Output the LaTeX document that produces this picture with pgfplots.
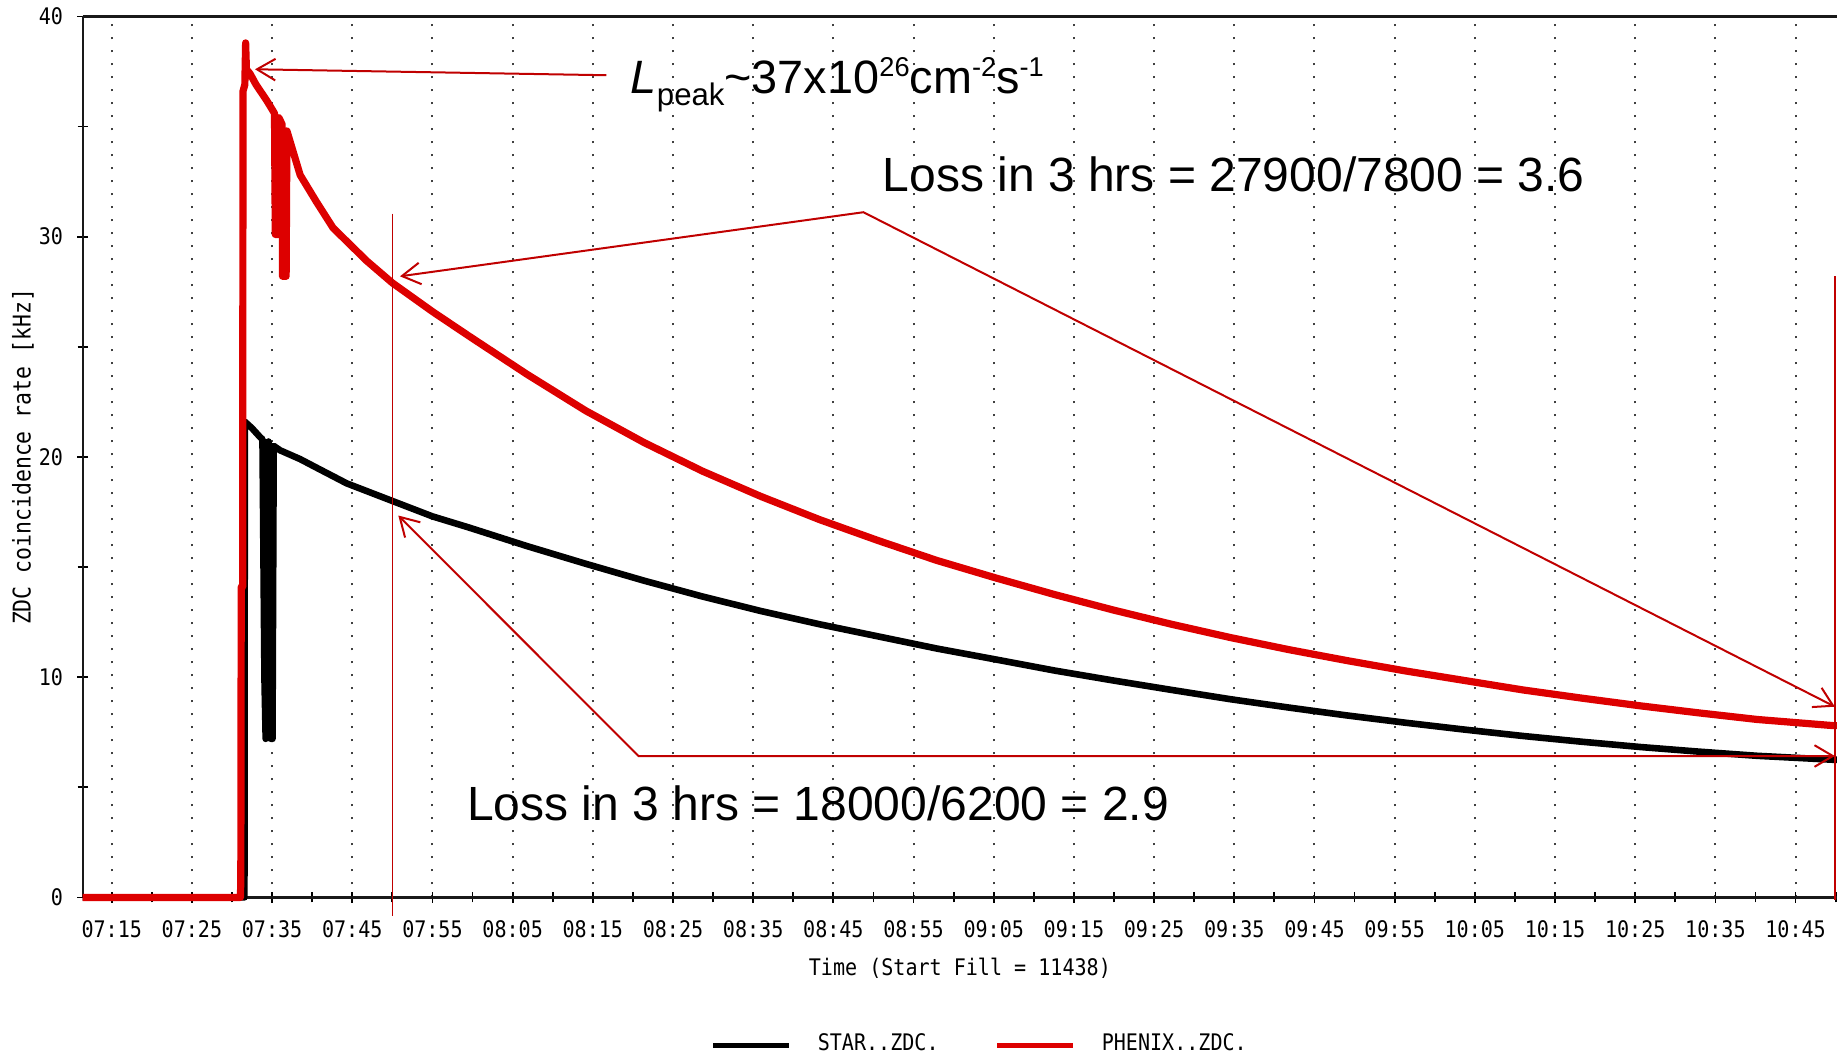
\documentclass[border=0pt]{standalone}
\usepackage{fontspec}
\setmainfont{Liberation Sans}
\newfontfamily\pixfont[FakeStretch=0.88]{DejaVu Sans Mono}
\usepackage{pgfplots}
\pgfplotsset{compat=1.18}
\usepackage{pgfplotstable}
\usetikzlibrary{arrows.meta}

\definecolor{datared}{RGB}{221,0,0}
\definecolor{annred}{RGB}{192,0,0}
\newcommand{\pix}{\pixfont\fontsize{5.7}{6.5}\selectfont}

% time in minutes after 07:00, rate in kHz
\pgfplotstableread{
t      rate
11.38  0
31.55  0
31.6   21.6
32.5   21.3
33.5   20.9
33.8   20.8
34.05  9.9
34.2   7.2
34.55  20.7
34.85  7.2
35.05  7.2
35.2   20.5
36.0   20.3
38.5   19.9
40.6   19.5
44.3   18.8
50.0   18.0
55.0   17.3
59.5   16.8
66.8   15.95
74.1   15.15
81.4   14.38
88.7   13.66
96.0   13.0
103.3  12.4
110.6  11.85
117.9  11.3
125.3  10.8
132.6  10.3
139.9  9.85
147.2  9.42
154.5  9.0
161.8  8.62
169.1  8.26
176.4  7.93
183.7  7.62
191.0  7.33
198.3  7.07
205.6  6.83
212.9  6.62
220.2  6.43
229.7  6.25
230.17 6.25
}\star

\pgfplotstableread{
t      rate
11.38  0
31.05  0
31.1   0.8
31.15  14.1
31.33  14.1
31.37  36.6
31.6   36.9
31.7   38.8
31.8   37.6
32.25  37.4
33.0   36.9
34.3   36.2
35.3   35.6
35.4   30.1
35.75  30.1
35.85  35.4
36.25  35.1
36.3   28.2
36.75  28.2
36.85  34.8
38.5   32.8
40.5   31.6
42.6   30.4
46.8   28.9
50.0   27.9
55.0   26.6
59.5   25.5
66.8   23.75
74.1   22.1
81.4   20.65
88.7   19.35
96.0   18.2
103.3  17.15
110.6  16.2
117.9  15.3
125.3  14.5
132.6  13.75
139.9  13.05
147.2  12.4
154.5  11.8
161.8  11.25
169.1  10.75
176.4  10.28
183.7  9.85
191.0  9.42
198.3  9.05
205.6  8.7
212.9  8.38
220.2  8.08
229.7  7.8
230.17 7.8
}\phenix

\begin{document}
\begin{tikzpicture}
\begin{axis}[
  scale only axis,
  width=438.575pt, height=220.25pt,
  xmin=11.38, xmax=230.17,
  ymin=0, ymax=40,
  clip=false,
  axis x line*=box, axis y line*=left,
  axis line style={line width=0.55pt, black!90},
  xtick pos=left, ytick pos=left,
  tick align=center,
  major tick length=2.75pt, minor tick length=2.5pt,
  every tick/.style={black, line width=0.45pt},
  xtick={15,25,...,225},
  xticklabels={07:15,07:25,07:35,07:45,07:55,08:05,08:15,08:25,08:35,08:45,08:55,09:05,09:15,09:25,09:35,09:45,09:55,10:05,10:15,10:25,10:35,10:45},
  minor xtick={20,30,...,230},
  ytick={0,10,20,30,40},
  minor ytick={5,15,25,35},
  xmajorgrids,
  major x grid style={black!75, line width=0.5pt, dash pattern=on 0.5pt off 2.75pt},
  /pgf/number format/assume math mode=true,
  ticklabel style={font=\pix},
  xticklabel style={yshift=-0.9pt},
  xlabel={Time (Start Fill = 11438)},
  xlabel style={font=\pix, at={(axis description cs:0.5,-0.0801)}, anchor=center},
  ylabel={ZDC coincidence rate [kHz]},
  ylabel style={font=\pixfont\fontsize{6.1}{7}\selectfont, at={(axis description cs:-0.034,0.5)}, anchor=center},
  legend style={draw=none, fill=none, font=\pix, legend columns=2,
    at={(axis description cs:0.513,-0.168)}, anchor=center,
    /tikz/every odd column/.append style={column sep=4.5pt},
    /tikz/every even column/.append style={column sep=12pt}},
  legend image code/.code={\draw[#1, line width=1.3pt] (0pt,0pt) -- (19pt,0pt);},
]
\addplot[black, line width=1.65pt, line join=round] table[x=t, y=rate] {\star};
\addlegendentry{STAR..ZDC.}
\addplot[datared, line width=1.8pt, line join=round] table[x=t, y=rate] {\phenix};
\addlegendentry{PHENIX..ZDC.}

% annotations
\draw[annred, line width=0.5pt, -{Straight Barb[length=4.6pt, width=5.4pt]}]
  (axis cs:76.7,37.33) -- (axis cs:32.87,37.6);
\draw[annred, line width=0.5pt, {Straight Barb[length=4.6pt, width=5.4pt]}-{Straight Barb[length=4.6pt, width=5.4pt]}]
  (axis cs:50.95,28.2) -- (axis cs:108.75,31.11) -- (axis cs:229.9,8.66);
\draw[annred, line width=0.5pt, {Straight Barb[length=4.6pt, width=5.4pt]}-{Straight Barb[length=4.6pt, width=5.4pt]}]
  (axis cs:50.74,17.34) -- (axis cs:80.69,6.42) -- (axis cs:229.9,6.42);
\draw[annred, line width=0.4pt] (axis cs:50,31.05) -- (axis cs:50,-0.85);
\draw[annred, line width=0.4pt] (axis cs:229.9,28.2) -- (axis cs:229.9,-0.1);

\node[anchor=base west, inner sep=0pt, font=\fontsize{11.7}{14}\selectfont] at (axis cs:79.65,36.5)
  {\textit{L}\raisebox{-2.9pt}{\fontsize{7.8}{9}\selectfont peak}\textasciitilde 37x10\raisebox{4.15pt}{\fontsize{6.8}{8}\selectfont 26}cm\raisebox{4.15pt}{\fontsize{6.8}{8}\selectfont -2}s\raisebox{4.15pt}{\fontsize{6.8}{8}\selectfont -1}};
\node[anchor=base west, inner sep=0pt, font=\fontsize{12}{14}\selectfont] at (axis cs:111.06,32.07)
  {Loss in 3 hrs = 27900/7800 = 3.6};
\node[anchor=base west, inner sep=0pt, font=\fontsize{12}{14}\selectfont] at (axis cs:59.22,3.5)
  {Loss in 3 hrs = 18000/6200 = 2.9};
\end{axis}
\pgfresetboundingbox
\path[use as bounding box] (-20.675pt,-41.4pt) rectangle (438.575pt,224.35pt);
\end{tikzpicture}
\end{document}
